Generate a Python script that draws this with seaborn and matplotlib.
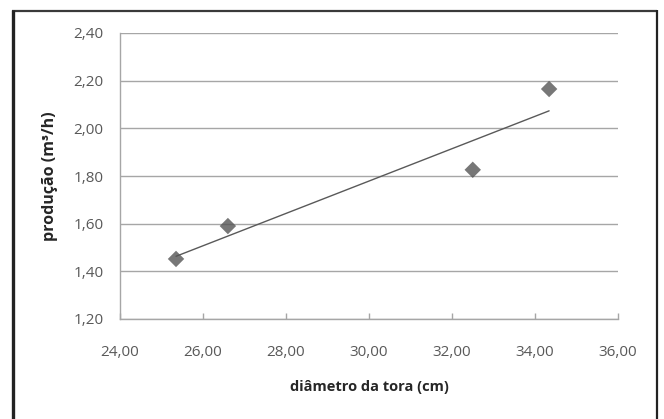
import matplotlib
matplotlib.use("Agg")
import matplotlib.pyplot as plt
from matplotlib.lines import Line2D
from matplotlib.ticker import MultipleLocator, FuncFormatter
import seaborn as sns
import pandas as pd

# data
diametro = [25.35, 26.60, 32.50, 34.34]
producao = [1.452, 1.590, 1.826, 2.165]
x_label = "diâmetro da tora (cm)"
y_label = "produção (m³/h)"

df = pd.DataFrame({"x": diametro, "y": producao})

sns.set_theme(style="white")
plt.rcParams["font.family"] = ["Open Sans", "DejaVu Sans"]

W, H = 664, 419
fig = plt.figure(figsize=(W / 100, H / 100), dpi=100)
ax = fig.add_axes([120 / W, 1 - 319 / H, (618 - 120) / W, (319 - 33) / H])

sns.regplot(data=df, x="x", y="y", ax=ax, ci=None, marker="D",
            scatter_kws={"s": 70, "color": "#555555", "edgecolor": "none", "zorder": 4},
            line_kws={"color": "#595959", "linewidth": 1.0, "zorder": 3})

ax.set_xlim(24, 36)
ax.set_ylim(1.2, 2.4)
ax.xaxis.set_major_locator(MultipleLocator(2))
ax.yaxis.set_major_locator(MultipleLocator(0.2))
fmt = FuncFormatter(lambda v, p: f"{v:.2f}".replace(".", ","))
ax.xaxis.set_major_formatter(fmt)
ax.yaxis.set_major_formatter(fmt)

ax.grid(axis="y", color="#a6a6a6", linewidth=1.0)
ax.set_axisbelow(True)
for s in ["top", "right"]:
    ax.spines[s].set_visible(False)
for s in ["left", "bottom"]:
    ax.spines[s].set_color("#a6a6a6")
    ax.spines[s].set_linewidth(1.0)

ax.tick_params(axis="x", direction="in", length=4, width=1, color="#a6a6a6",
               bottom=True, pad=19, labelsize=11, labelcolor="#595959")
ax.tick_params(axis="y", left=False, length=0, pad=12, labelsize=11, labelcolor="#595959")

ax.set_xlabel(x_label, fontsize=10.5, fontweight="bold", color="#262626", labelpad=14)
ax.set_ylabel(y_label, fontsize=11.5, fontweight="bold", color="#262626", labelpad=11)

# outer chart border
def fl(x0, y0, x1, y1, lw, c):
    fig.add_artist(Line2D([x0 / W, x1 / W], [1 - y0 / H, 1 - y1 / H],
                          transform=fig.transFigure, color=c, linewidth=lw,
                          solid_capstyle="butt"))

fl(12, 11, 657, 11, 1.6, "#3a3a3a")
fl(12.5, 10, 12.5, 420, 2.4, "#222222")
fl(656.5, 10, 656.5, 420, 1.6, "#222222")

fig.savefig("out.png", dpi=100)
